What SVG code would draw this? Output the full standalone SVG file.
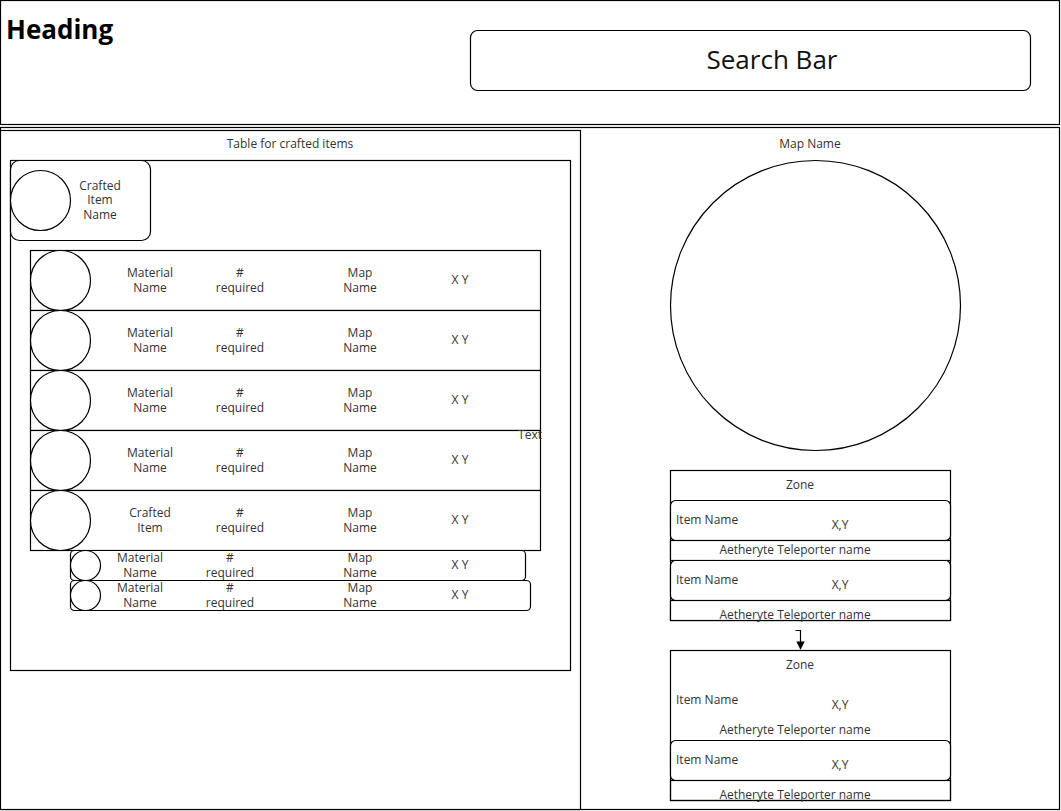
<svg xmlns="http://www.w3.org/2000/svg" width="1061" height="811" viewBox="0 0 1061 811">
<style>
.b{fill:#fff;stroke:#000;stroke-width:1.2}
.n{fill:none;stroke:#000;stroke-width:1.2}
text{font-family:"Open Sans","Noto Sans","DejaVu Sans",sans-serif;font-size:12px;fill:#333}
.c{text-anchor:middle}
</style>
<defs>
<marker id="arr" viewBox="0 0 10 10" refX="9" refY="5" markerWidth="7" markerHeight="7" orient="auto"><path d="M0,0 L10,5 L0,10 z" fill="#000"/></marker>
</defs>
<rect width="1061" height="811" fill="#fff"/>
<g id="header">
<rect class="b" x="0.5" y="0.5" width="1059" height="124"/>
<text x="6" y="39" style="font-size:26px;font-weight:bold;fill:#000">Heading</text>
</g>
<g id="search">
<rect class="b" x="470.5" y="30.5" width="560" height="60" rx="7"/>
<text class="c" x="772" y="69" style="font-size:26px;fill:#111">Search Bar</text>
</g>
<g id="body"><rect class="b" x="0.5" y="127.5" width="1059" height="682"/></g>
<g id="leftPanel">
<rect class="b" x="0.5" y="130.5" width="580" height="679"/>
<text class="c" x="290" y="148">Table for crafted items</text>
<rect class="b" x="10.5" y="160.5" width="560" height="510"/>
</g>
<g id="craftedItem">
<rect class="b" x="10.5" y="160.5" width="140" height="80" rx="9"/>
<circle class="b" cx="40.5" cy="200.5" r="30"/>
<text class="c" x="100" y="190">Crafted</text>
<text class="c" x="100" y="204">Item</text>
<text class="c" x="100" y="219">Name</text>
</g>
<g id="row1">
<rect class="b" x="30.5" y="250.5" width="510" height="60"/>
<circle class="b" cx="60.5" cy="280.5" r="30"/>
<text class="c" x="150" y="277">Material</text><text class="c" x="150" y="292">Name</text>
<text class="c" x="240" y="277">#</text><text class="c" x="240" y="292">required</text>
<text class="c" x="360" y="277">Map</text><text class="c" x="360" y="292">Name</text>
<text class="c" x="460" y="284">X Y</text>
</g>
<g id="row2">
<rect class="b" x="30.5" y="310.5" width="510" height="60"/>
<circle class="b" cx="60.5" cy="340.5" r="30"/>
<text class="c" x="150" y="337">Material</text><text class="c" x="150" y="352">Name</text>
<text class="c" x="240" y="337">#</text><text class="c" x="240" y="352">required</text>
<text class="c" x="360" y="337">Map</text><text class="c" x="360" y="352">Name</text>
<text class="c" x="460" y="344">X Y</text>
</g>
<g id="row3">
<rect class="b" x="30.5" y="370.5" width="510" height="60"/>
<circle class="b" cx="60.5" cy="400.5" r="30"/>
<text class="c" x="150" y="397">Material</text><text class="c" x="150" y="412">Name</text>
<text class="c" x="240" y="397">#</text><text class="c" x="240" y="412">required</text>
<text class="c" x="360" y="397">Map</text><text class="c" x="360" y="412">Name</text>
<text class="c" x="460" y="404">X Y</text>
</g>
<g id="row4">
<rect class="b" x="30.5" y="430.5" width="510" height="60"/>
<circle class="b" cx="60.5" cy="460.5" r="30"/>
<text class="c" x="150" y="457">Material</text><text class="c" x="150" y="472">Name</text>
<text class="c" x="240" y="457">#</text><text class="c" x="240" y="472">required</text>
<text class="c" x="360" y="457">Map</text><text class="c" x="360" y="472">Name</text>
<text class="c" x="460" y="464">X Y</text>
</g>
<g id="textLabel"><text class="c" x="530" y="439">Text</text></g>
<g id="row5">
<rect class="b" x="30.5" y="490.5" width="510" height="60"/>
<circle class="b" cx="60.5" cy="520.5" r="30"/>
<text class="c" x="150" y="517">Crafted</text><text class="c" x="150" y="532">Item</text>
<text class="c" x="240" y="517">#</text><text class="c" x="240" y="532">required</text>
<text class="c" x="360" y="517">Map</text><text class="c" x="360" y="532">Name</text>
<text class="c" x="460" y="524">X Y</text>
</g>
<g id="sub1">
<rect class="b" x="70.5" y="550.5" width="455" height="30" rx="4"/>
<circle class="b" cx="85.5" cy="565.5" r="15"/>
<text class="c" x="140" y="562">Material</text><text class="c" x="140" y="577">Name</text>
<text class="c" x="230" y="562">#</text><text class="c" x="230" y="577">required</text>
<text class="c" x="360" y="562">Map</text><text class="c" x="360" y="577">Name</text>
<text class="c" x="460" y="569">X Y</text>
</g>
<g id="sub2">
<rect class="b" x="70.5" y="580.5" width="460" height="30" rx="4"/>
<circle class="b" cx="85.5" cy="595.5" r="15"/>
<text class="c" x="140" y="592">Material</text><text class="c" x="140" y="607">Name</text>
<text class="c" x="230" y="592">#</text><text class="c" x="230" y="607">required</text>
<text class="c" x="360" y="592">Map</text><text class="c" x="360" y="607">Name</text>
<text class="c" x="460" y="599">X Y</text>
</g>
<g id="map">
<text class="c" x="810" y="148">Map Name</text>
<circle class="b" cx="815.5" cy="305.5" r="145"/>
</g>
<g id="zone1">
<rect class="b" x="670.5" y="470.5" width="280" height="150"/>
<text class="c" x="800" y="489">Zone</text>
<rect class="b" x="670.5" y="500.5" width="280" height="40" rx="5"/>
<text x="676" y="524">Item Name</text><text class="c" x="840" y="529">X,Y</text>
<rect class="b" x="670.5" y="540.5" width="280" height="20"/>
<text class="c" x="795" y="554">Aetheryte Teleporter name</text>
<rect class="b" x="670.5" y="560.5" width="280" height="40" rx="5"/>
<text x="676" y="584">Item Name</text><text class="c" x="840" y="589">X,Y</text>
<rect class="b" x="670.5" y="600.5" width="280" height="20"/>
<text class="c" x="795" y="619">Aetheryte Teleporter name</text>
</g>
<g id="zone2">
<rect class="b" x="670.5" y="650.5" width="280" height="150"/>
<text class="c" x="800" y="669">Zone</text>
<text x="676" y="704">Item Name</text><text class="c" x="840" y="709">X,Y</text>
<text class="c" x="795" y="734">Aetheryte Teleporter name</text>
<rect class="b" x="670.5" y="740.5" width="280" height="40" rx="5"/>
<text x="676" y="764">Item Name</text><text class="c" x="840" y="769">X,Y</text>
<rect class="n" x="670.5" y="780.5" width="280" height="20"/>
<text class="c" x="795" y="799">Aetheryte Teleporter name</text>
</g>
<g id="connectors">
<path class="n" d="M795.5,630.5 H800.5 V649" marker-end="url(#arr)"/>
</g>
</svg>
